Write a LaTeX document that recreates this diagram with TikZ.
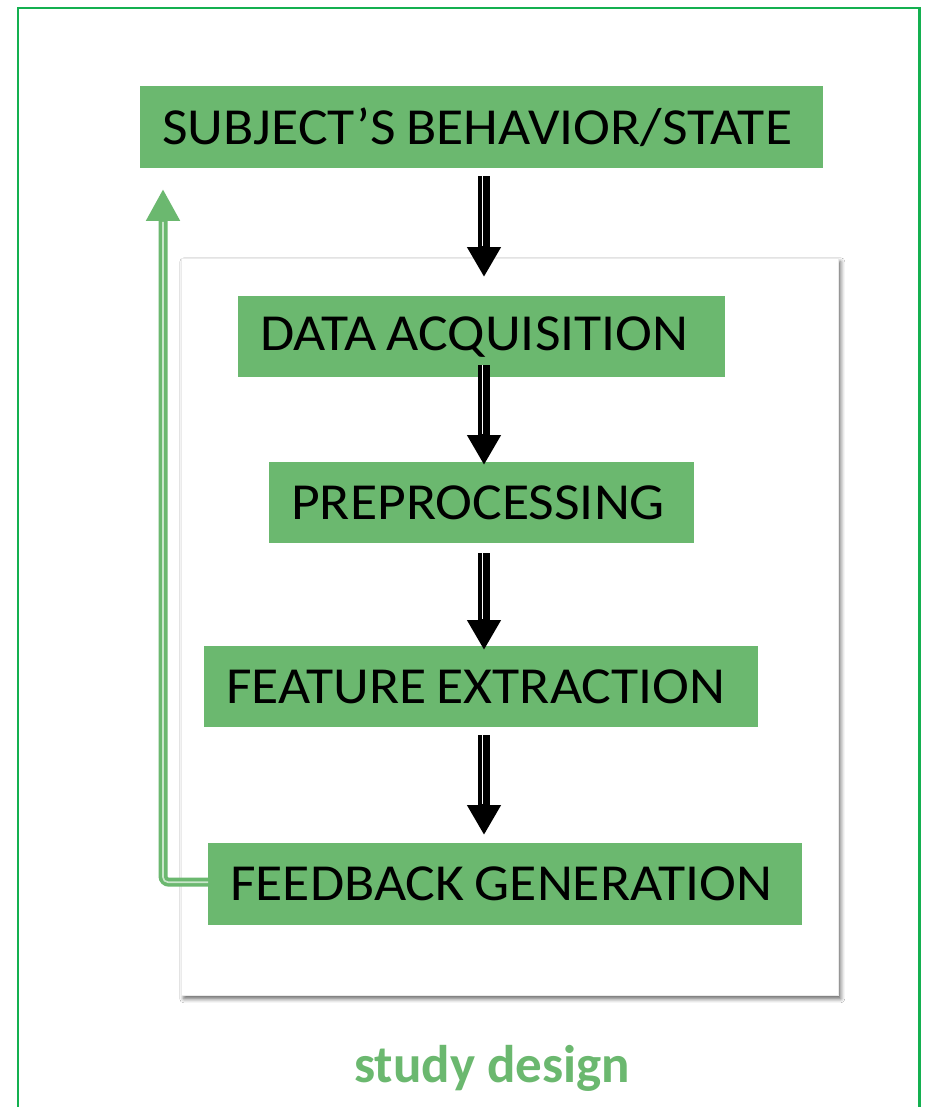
\documentclass[tikz,border=0pt]{standalone}
\usepackage{fontspec}
\setmainfont{Carlito}
\newfontfamily\stagefont{Carlito}[FakeStretch=1.07]
\usetikzlibrary{arrows.meta,shadows.blur,calc}
\definecolor{boxgreen}{HTML}{6BB86F}
\definecolor{framegreen}{HTML}{14B050}
\definecolor{stripegreen}{HTML}{C9E6CA}

% label of a stage box: left-set on a line of the given width, tight word spaces
\newcommand\stagelabel[2]{\makebox[#1][l]{\spaceskip=0.2em\relax #2}}

% one black flow arrow: shaft with a thin light stripe and a triangular head
\newcommand\stagearrow[2]{%
  \draw[flowshaft] (#1) -- (#2);
  \draw[flowstripe] ($(#1)+(-1.5,0)$) -- ($(#2)+(-1.5,-31)$);
}

\begin{document}
\begin{tikzpicture}[x=1pt,y=-1pt,
  stage/.style={fill=boxgreen, anchor=north west, inner xsep=22pt, inner ysep=0pt,
    font=\stagefont\fontsize{52}{60}\selectfont, text=black},
  flowshaft/.style={black, line width=12pt, -{Triangle[width=32pt,length=30pt]}},
  flowstripe/.style={white, line width=1.5pt},
  feedback/.style={boxgreen, line width=9pt, rounded corners=6pt,
    -{Triangle[width=32pt,length=32pt]}},
  feedstripe/.style={stripegreen, line width=1.6pt, rounded corners=5pt},
  caption/.style={font=\bfseries\fontsize{53}{60}\selectfont, text=boxgreen}]

\useasboundingbox (0,0) rectangle (924,1107);
\fill[white] (0,0) rectangle (924,1107);

% outer frame, open past the lower edge
\draw[framegreen, line width=2.5pt] (18,1140) -- (18,8) -- (919.5,8) -- (919.5,1140);

% white panel with a soft shadow
\node[fill=white, draw=black!8, line width=0.6pt, anchor=north west,
  minimum width=657pt, minimum height=737pt, inner sep=0pt,
  blur shadow={shadow xshift=2.5pt, shadow yshift=-3.5pt, shadow blur radius=4pt, shadow opacity=60}]
  (panel) at (181,258) {};

% stages
\node[stage, minimum height=82pt] (subj) at (140,86) {\stagelabel{639pt}{SUBJECT’S BEHAVIOR/STATE}};
\node[stage, minimum height=81pt] (acq)  at (238,296) {\stagelabel{443pt}{DATA ACQUISITION}};
\node[stage, minimum height=81pt] (pre)  at (269,462) {\stagelabel{381pt}{PREPROCESSING}};
\node[stage, minimum height=81pt] (feat) at (204,646) {\stagelabel{510pt}{FEATURE EXTRACTION}};
\node[stage, minimum height=82pt] (fb)   at (208,843) {\stagelabel{550pt}{FEEDBACK GENERATION}};

% flow arrows along a common axis
\coordinate (axis) at (484,0);
\coordinate (a1s) at ($(subj.south -| axis)+(0,8)$);
\coordinate (a1e) at ($(acq.north -| axis)+(0,-19)$);
\coordinate (a2s) at ($(acq.south -| axis)+(0,-12)$);
\coordinate (a2e) at ($(pre.north -| axis)+(0,3)$);
\coordinate (a3s) at ($(pre.south -| axis)+(0,10)$);
\coordinate (a3e) at ($(feat.north -| axis)+(0,4)$);
\coordinate (a4s) at ($(feat.south -| axis)+(0,8)$);
\coordinate (a4e) at ($(fb.north -| axis)+(0,-8)$);
\stagearrow{a1s}{a1e}
\stagearrow{a2s}{a2e}
\stagearrow{a3s}{a3e}
\stagearrow{a4s}{a4e}

% feedback loop back to the subject
\coordinate (fbstart) at ($(fb.west)+(0,-2)$);
\coordinate (fbtip) at (163,189);
\draw[feedback] (fbstart) -| (fbtip);
\draw[feedstripe] (fbstart) -| ($(fbtip)+(0,33)$);

% caption
\node[caption] (cap) at (492,1068) {study design};
\end{tikzpicture}
\end{document}
